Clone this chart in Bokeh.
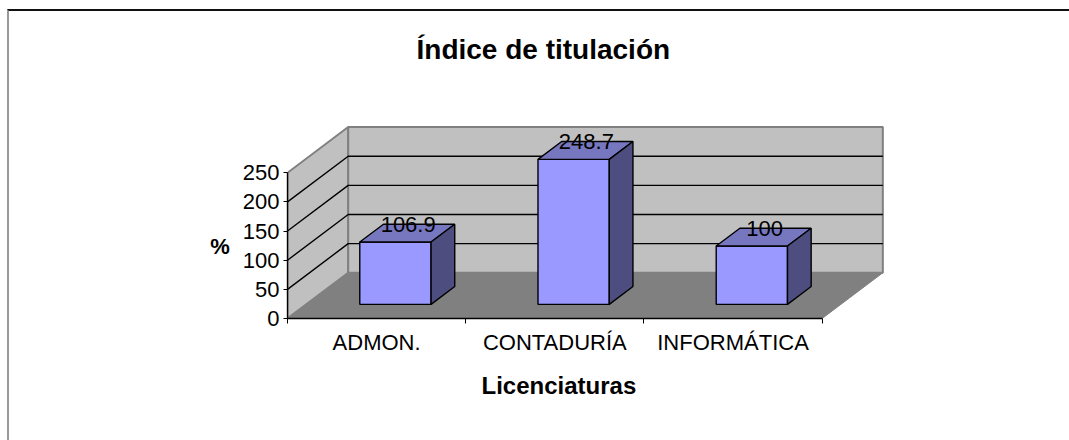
from bokeh.plotting import figure
from bokeh.models import Range1d, LinearAxis, FixedTicker, ColumnDataSource, Title
from bokeh.embed import file_html
from bokeh.resources import INLINE

categories = ["ADMON.", "CONTADURÍA", "INFORMÁTICA"]
values = [106.9, 248.7, 100]
labels = ["106.9", "248.7", "100"]
y_ticks = [0, 50, 100, 150, 200, 250]
title_text = "Índice de titulación"
x_title = "Licenciaturas"
y_title = "%"

FONT = "Liberation Sans"
DX, DY = 0.3406, 78.4      # oblique shift of full depth, in axis units
Y_MAX = 250
N = len(categories)
Z0, Z1 = 0.31, 0.70        # bar depth span
BW = 0.2                   # half bar width

def sx(x, z):
    return x + z * DX

def sy(y, z):
    return y + z * DY

p = figure(width=1062, height=431, output_backend="svg", toolbar_location=None,
           x_range=Range1d(0, 3.378), y_range=Range1d(0, 435.7),
           x_axis_type=None, y_axis_type=None,
           min_border_left=278, min_border_right=182, min_border_top=53, min_border_bottom=124)
p.outline_line_color = None
p.grid.visible = False
p.background_fill_color = "white"
p.border_fill_color = "white"
p.styles = {"border-top": "2px solid #111111", "border-left": "2px solid #999999",
            "margin-top": "9px", "margin-left": "7px"}

# title
p.title.text = title_text
p.title.text_font = FONT
p.title.text_font_size = "28px"
p.title.text_font_style = "bold"
p.title.text_color = "black"
p.title.align = "left"
p.title.offset = 129
p.title.standoff = 0

# walls and floor
p.patch([sx(0, 0), sx(0, 1), sx(0, 1), sx(0, 0)], [sy(0, 0), sy(0, 1), sy(Y_MAX, 1), sy(Y_MAX, 0)],
        fill_color="#C0C0C0", line_color="#808080", line_width=2)
p.patch([sx(0, 1), sx(N, 1), sx(N, 1), sx(0, 1)], [sy(0, 1), sy(0, 1), sy(Y_MAX, 1), sy(Y_MAX, 1)],
        fill_color="#C0C0C0", line_color="#808080", line_width=2)
p.patch([sx(0, 0), sx(N, 0), sx(N, 1), sx(0, 1)], [sy(0, 0), sy(0, 0), sy(0, 1), sy(0, 1)],
        fill_color="#808080", line_color="#808080", line_width=1)

# gridlines
for t in y_ticks[1:-1]:
    p.line([sx(0, 0), sx(0, 1), sx(N, 1)], [sy(t, 0), sy(t, 1), sy(t, 1)], line_color="black", line_width=1.4)

# bars
for i, v in enumerate(values):
    c = i + 0.5
    l, r = c - BW, c + BW
    p.patch([sx(l, Z0), sx(r, Z0), sx(r, Z0), sx(l, Z0)], [sy(0, Z0), sy(0, Z0), sy(v, Z0), sy(v, Z0)],
            fill_color="#9999FF", line_color="black", line_width=1.4)
    p.patch([sx(l, Z0), sx(r, Z0), sx(r, Z1), sx(l, Z1)], [sy(v, Z0), sy(v, Z0), sy(v, Z1), sy(v, Z1)],
            fill_color="#7777BF", line_color="black", line_width=1.4)
    p.patch([sx(r, Z0), sx(r, Z1), sx(r, Z1), sx(r, Z0)], [sy(0, Z0), sy(0, Z1), sy(v, Z1), sy(v, Z0)],
            fill_color="#4D4D80", line_color="black", line_width=1.4)

# data labels
src = ColumnDataSource(dict(
    x=[sx(i + 0.5, 0.52) for i in range(N)],
    y=[sy(v, 0.52) for v in values],
    t=labels))
p.text("x", "y", text="t", source=src, text_align="center", text_baseline="middle", y_offset=-8,
       text_font={"value": FONT}, text_font_size="22px", text_color="black")

# axes; the leading blank lines push "%" below the centre of the tall frame
ya = LinearAxis(ticker=FixedTicker(ticks=y_ticks), bounds=(0, Y_MAX),
                axis_label="\n\n\n\n" + y_title, axis_label_orientation="horizontal",
                axis_label_text_font=FONT, axis_label_text_font_size="22px",
                axis_label_text_font_style="bold", axis_label_text_color="black",
                axis_label_text_line_height=1.1, axis_label_standoff=10,
                major_label_text_font=FONT, major_label_text_font_size="22px",
                major_label_text_color="black", major_label_standoff=4,
                major_tick_in=0, major_tick_out=4, minor_tick_in=0, minor_tick_out=0,
                axis_line_color="black", major_tick_line_color="black", axis_line_width=1.4)
p.add_layout(ya, "left")

xa = LinearAxis(ticker=FixedTicker(ticks=[i + 0.5 for i in range(N)], minor_ticks=list(range(N + 1))),
                bounds=(0, N),
                major_label_overrides={i + 0.5: c for i, c in enumerate(categories)},
                major_label_text_font=FONT, major_label_text_font_size="22px",
                major_label_text_color="black", major_label_standoff=6,
                major_tick_in=0, major_tick_out=0, minor_tick_in=0, minor_tick_out=5,
                axis_line_color="black", minor_tick_line_color="black", axis_line_width=1.4)
p.add_layout(xa, "below")

# x axis title, centred on the axis span rather than on the wider frame
p.add_layout(Title(text=x_title, align="left", offset=194, standoff=25,
                   text_font=FONT, text_font_size="24px", text_font_style="bold", text_color="black"), "below")

open("out.html", "w").write(file_html(p, INLINE))
